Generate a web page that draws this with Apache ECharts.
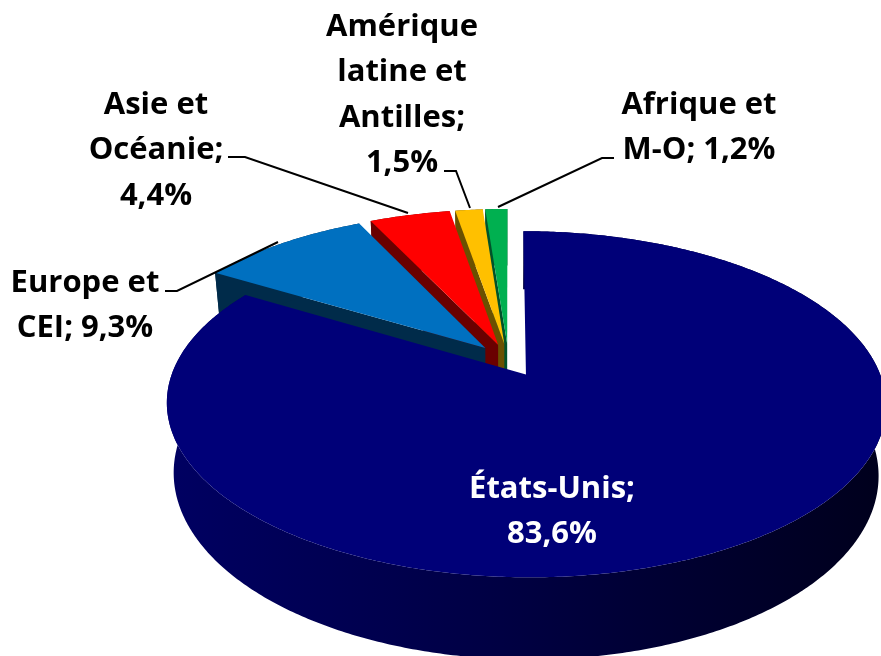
<!DOCTYPE html>
<html>
<head>
<meta charset="UTF-8">
<title>Répartition</title>
<style>html,body{margin:0;padding:0;background:#fff}#chart{width:881px;height:656px}</style>
<script src="https://cdn.jsdelivr.net/npm/echarts@6/dist/echarts.min.js"></script>
</head>
<body>
<div id="chart"></div>
<script>
// data, clockwise from 12 o'clock
const regions = ['États-Unis', 'Europe et CEI', 'Asie et Océanie', 'Amérique latine et Antilles', 'Afrique et M-O'];
const shares = [83.6, 9.3, 4.4, 1.5, 1.2];
const topColors = ['#000078', '#0070c0', '#ff0000', '#ffc000', '#00b050'];
const wallColors = ['#000050', '#002b4a', '#6a0000', '#6a5000', '#00522a'];

// tilted disc projection
const cx = 508.5, cy = 360, rx = 349, ry = 163, persp = 0.17, explode = 0.1, depth = 67;

function project(u, v, low) {
    const w = 1 + persp * v;
    let x = rx * u / w;
    if (low) x *= 0.98;
    return [cx + x, cy - ry * v / w + (low ? depth / w : 0)];
}

function sliceAngles(i) {
    const total = shares.reduce((a, b) => a + b, 0);
    const before = shares.slice(0, i).reduce((a, b) => a + b, 0);
    return [before / total * 2 * Math.PI, (before + shares[i]) / total * 2 * Math.PI];
}

function renderSlice(params, api) {
    const i = api.value(0);
    const [a0, a1] = sliceAngles(i);
    const mid = (a0 + a1) / 2;
    const ou = explode * Math.sin(mid), ov = explode * Math.cos(mid);
    const rim = (a, low) => project(ou + Math.sin(a), ov + Math.cos(a), low);
    const steps = Math.max(4, Math.ceil((a1 - a0) / 0.01));
    const topPts = [project(ou, ov, false)];
    const arcTop = [], arcLow = [];
    for (let s = 0; s <= steps; s++) {
        const a = a0 + (a1 - a0) * s / steps;
        arcTop.push(rim(a, false));
        arcLow.push(rim(a, true));
    }
    const children = [];
    // cut face on the leading edge
    if (i > 0) {
        children.push({
            type: 'polygon',
            shape: { points: [project(ou, ov, false), rim(a0, false), rim(a0, true), project(ou, ov, true)] },
            style: { fill: wallColors[i] }
        });
    }
    // outer wall
    children.push({
        type: 'polygon',
        shape: { points: arcTop.concat(arcLow.slice().reverse()) },
        style: {
            fill: i === 0
                ? new echarts.graphic.LinearGradient(0, 0, 1, 0, [
                    { offset: 0, color: '#000062' },
                    { offset: 0.45, color: '#000044' },
                    { offset: 1, color: '#00001c' }
                ])
                : wallColors[i]
        }
    });
    children.push({
        type: 'polygon',
        shape: { points: topPts.concat(arcTop) },
        style: { fill: topColors[i] }
    });
    return { type: 'group', children: children };
}

const pct = v => String(v).replace('.', ',') + '%';

// label text lines and leader lines
const labelLines = [
    ['États-Unis;', pct(shares[0])],
    ['Europe et', 'CEI; ' + pct(shares[1])],
    ['Asie et', 'Océanie;', pct(shares[2])],
    ['Amérique', 'latine et', 'Antilles;', pct(shares[3])],
    ['Afrique et', 'M-O; ' + pct(shares[4])]
];
const labelPos = [[552, 489], [85, 283], [156, 105], [402, 27], [699, 105]];
const leaders = [
    null,
    [[165, 291], [177, 291], [278, 242]],
    [[228, 157], [245, 157], [408, 213]],
    [[444, 171], [456, 171], [470, 208]],
    [[614, 158], [602, 158], [498, 207]]
];

const graphics = [];
labelLines.forEach((lines, i) => {
    lines.forEach((line, n) => {
        graphics.push({
            type: 'text',
            x: labelPos[i][0],
            y: labelPos[i][1] + n * 45.5,
            z: 10,
            style: {
                text: line,
                fill: i === 0 ? '#fff' : '#000',
                font: 'bold 31px "Open Sans"',
                textAlign: 'center',
                textVerticalAlign: 'middle'
            }
        });
    });
    if (leaders[i]) {
        graphics.push({
            type: 'polyline',
            z: 9,
            shape: { points: leaders[i] },
            style: { stroke: '#000', lineWidth: 2, fill: null }
        });
    }
});

const chart = echarts.init(document.getElementById('chart'));
chart.setOption({
    animation: false,
    backgroundColor: '#fff',
    graphic: graphics,
    series: [{
        type: 'custom',
        coordinateSystem: 'none',
        silent: true,
        renderItem: renderSlice,
        // back slices first so the nearer ones cover them
        data: shares.map((v, i) => [i, v, regions[i]]).reverse()
    }]
});
</script>
</body>
</html>
